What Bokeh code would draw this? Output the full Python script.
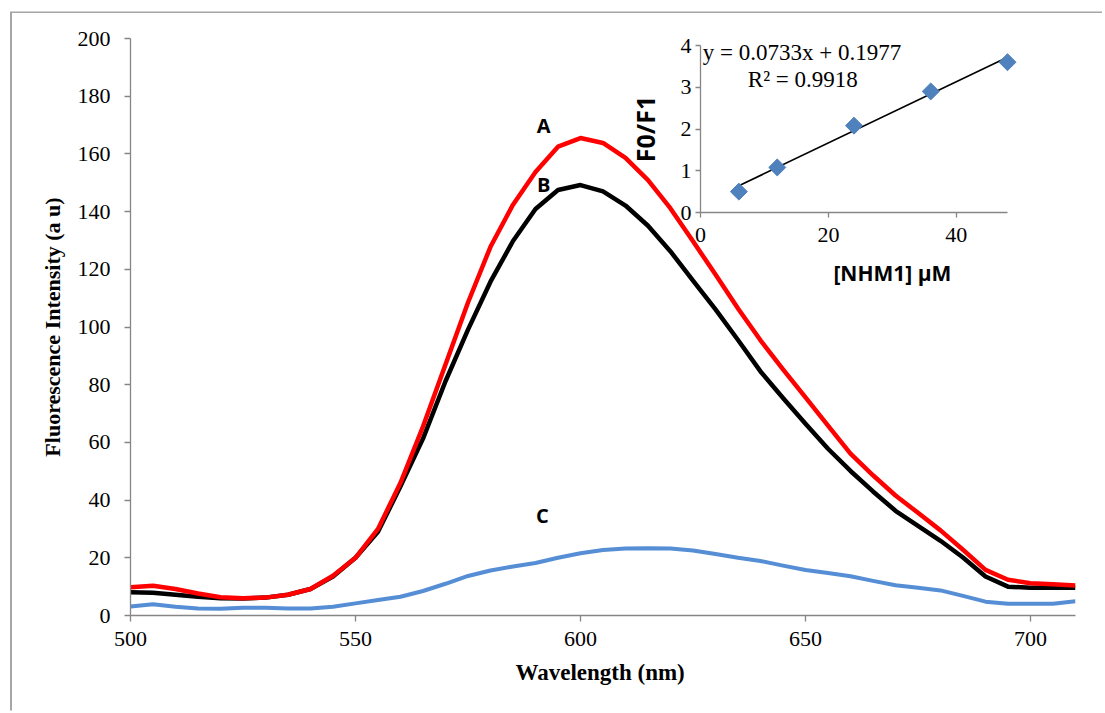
import numpy as np
from bokeh.plotting import figure
from bokeh.models import Range1d, LinearAxis, FixedTicker, Label
from bokeh.embed import file_html
from bokeh.resources import INLINE

# ---------------- data ----------------
wavelength = list(range(500, 711, 5))
curve_a = [9.8, 10.3, 9.2, 7.6, 6.3, 6.0, 6.2, 7.2, 9.2, 13.8, 20.0, 30.0, 46.0, 65.5,
           87.0, 108.5, 127.8, 142.4, 153.7, 162.5, 165.5, 163.8, 158.6, 150.9, 141.1,
           129.7, 118.2, 106.4, 95.4, 85.3, 75.6, 65.8, 56.1, 48.6, 41.6, 35.6, 29.5,
           22.8, 15.8, 12.4, 11.2, 10.8, 10.4]
curve_b = [8.1, 7.9, 7.2, 6.5, 6.0, 5.9, 6.2, 7.2, 9.2, 13.5, 20.0, 29.0, 44.8, 61.3,
           81.2, 99.1, 115.7, 129.8, 140.9, 147.5, 149.2, 147.0, 142.1, 135.1, 126.2,
           116.1, 106.1, 95.5, 84.6, 75.4, 66.5, 57.8, 50.1, 43.0, 36.3, 31.1, 25.9,
           20.1, 13.5, 10.0, 9.6, 9.6, 9.6]
curve_c = [3.1, 3.9, 3.0, 2.4, 2.3, 2.7, 2.7, 2.4, 2.4, 3.0, 4.2, 5.4, 6.5, 8.5, 11.0,
           13.7, 15.6, 17.0, 18.2, 20.0, 21.6, 22.7, 23.2, 23.3, 23.2, 22.5, 21.3, 20.0,
           18.9, 17.3, 15.8, 14.7, 13.6, 12.0, 10.5, 9.6, 8.7, 6.8, 4.8, 4.1, 4.1, 4.1, 4.9]
curve_labels = ["A", "B", "C"]

nhm1_conc = [6, 12, 24, 36, 48]
f0_f1 = [0.50, 1.08, 2.08, 2.90, 3.60]
trend_x = [6, 48]
trend_y = [0.64, 3.72]
trend_equation = "y = 0.0733x + 0.1977"
trend_r2 = "R\u00b2 = 0.9918"

main_x_ticks = [500, 550, 600, 650, 700]
main_y_ticks = list(range(0, 201, 20))
inset_x_ticks = [0, 20, 40]
inset_y_ticks = [0, 1, 2, 3, 4]

# ---------------- layout ----------------
OFF_X, OFF_Y = 12, 13          # figure offset on the page (chart-area border sits just outside)
W, H = 1092, 699
ML, MT = 118, 25
FW, FH = 945, 577
MR, MB = W - ML - FW, H - MT - FH

# inset placement inside the frame (pixels from frame left / bottom)
ix0_px, ix1_px, ix_v0, ix_v1 = 570.0, 877.0, 0.0, 48.0
iy0_px, iy1_px, iy_v0, iy_v1 = 403.0, 570.0, 0.0, 4.0
sx = (ix1_px - ix0_px) / (ix_v1 - ix_v0)
sy = (iy1_px - iy0_px) / (iy_v1 - iy_v0)
ix_start = ix_v0 - ix0_px / sx
ix_end = ix_start + FW / sx
iy_start = iy_v0 - iy0_px / sy
iy_end = iy_start + FH / sy

SERIF = "Liberation Serif"
SANS = "Open Sans"
AXIS_GREY = "#868686"

p = figure(width=W, height=H, x_range=Range1d(500, 710), y_range=Range1d(0, 200),
           output_backend="svg", toolbar_location=None,
           min_border_left=ML, min_border_right=MR, min_border_top=MT, min_border_bottom=MB)
p.margin = (OFF_Y, 0, 0, OFF_X)
p.styles = {"box-shadow": "-2px -1.5px 0px 0px #A6A6A6"}
p.extra_x_ranges = {"ix": Range1d(ix_start, ix_end)}
p.extra_y_ranges = {"iy": Range1d(iy_start, iy_end)}
p.grid.visible = False
p.outline_line_color = None
p.background_fill_color = "white"
p.border_fill_color = "white"

for ax in (p.xaxis[0], p.yaxis[0]):
    ax.axis_line_color = AXIS_GREY
    ax.axis_line_width = 1.3
    ax.major_tick_line_color = AXIS_GREY
    ax.major_tick_line_width = 1.3
    ax.major_tick_in = 0
    ax.major_tick_out = 6
    ax.minor_tick_line_color = None
    ax.major_label_text_font = SERIF
    ax.major_label_text_font_size = "22px"
    ax.major_label_text_color = "black"
    ax.axis_label_text_font = SERIF
    ax.axis_label_text_font_style = "bold"
    ax.axis_label_text_color = "black"

p.xaxis[0].ticker = FixedTicker(ticks=main_x_ticks)
p.yaxis[0].ticker = FixedTicker(ticks=main_y_ticks)
p.xaxis[0].axis_label = "Wavelength  (nm)"
p.yaxis[0].axis_label = "Fluorescence Intensity (a u)"
p.xaxis[0].axis_label_text_font_size = "23px"
p.yaxis[0].axis_label_text_font_size = "22px"
p.xaxis[0].major_label_standoff = 10
p.xaxis[0].axis_label_standoff = 11
p.yaxis[0].major_label_standoff = 14
p.yaxis[0].axis_label_standoff = 10

# main curves
p.line(wavelength, curve_c, line_color="#558ED5", line_width=4, line_join="round")
p.line(wavelength, curve_b, line_color="black", line_width=4.5, line_join="round")
p.line(wavelength, curve_a, line_color="#FF0000", line_width=4.5, line_join="round")

label_pos = [(591.8, 169.8), (591.8, 149.4), (591.5, 34.7)]
for txt, (lx, ly) in zip(curve_labels, label_pos):
    p.add_layout(Label(x=lx, y=ly, text=txt, text_font=SANS, text_font_style="bold",
                       text_font_size="20px", text_align="center", text_baseline="middle",
                       text_color="black"))

# ---------------- inset ----------------
iyax = LinearAxis(x_range_name="ix", y_range_name="iy", fixed_location=0,
                  bounds=(0, 4), ticker=FixedTicker(ticks=inset_y_ticks))
ixax = LinearAxis(x_range_name="ix", y_range_name="iy", fixed_location=0,
                  bounds=(0, 48), ticker=FixedTicker(ticks=inset_x_ticks))
for ax in (iyax, ixax):
    ax.axis_line_color = AXIS_GREY
    ax.axis_line_width = 1.3
    ax.major_tick_line_color = AXIS_GREY
    ax.major_tick_line_width = 1.3
    ax.major_tick_in = 0
    ax.major_tick_out = 5
    ax.minor_tick_line_color = None
    ax.major_label_text_font = SERIF
    ax.major_label_text_font_size = "22px"
    ax.major_label_text_color = "black"
iyax.major_label_standoff = 4
ixax.major_label_standoff = 10
p.add_layout(iyax, "left")
p.add_layout(ixax, "below")

p.line(trend_x, trend_y, x_range_name="ix", y_range_name="iy", line_color="black", line_width=1.6)
p.scatter(nhm1_conc, f0_f1, x_range_name="ix", y_range_name="iy", marker="square",
          size=12, angle=np.pi / 4, fill_color="#4F81BD", line_color="#4F81BD")

inset_texts = [
    (trend_equation, 15.86, 3.83, SERIF, "normal", "23px", 0),
    (trend_r2, 16.0, 3.18, SERIF, "normal", "23px", 0),
    ("F0/F1", -8.6, 2.0, SANS, "bold", "25px", np.pi / 2),
    ("[NHM1] \u00b5M", 30.0, -1.45, SANS, "bold", "21px", 0),
]
for txt, lx, ly, font, style, size, ang in inset_texts:
    p.add_layout(Label(x=lx, y=ly, x_range_name="ix", y_range_name="iy", text=txt,
                       text_font=font, text_font_style=style, text_font_size=size,
                       angle=ang, text_align="center", text_baseline="middle",
                       text_color="black"))

open("out.html", "w").write(file_html(p, INLINE))
